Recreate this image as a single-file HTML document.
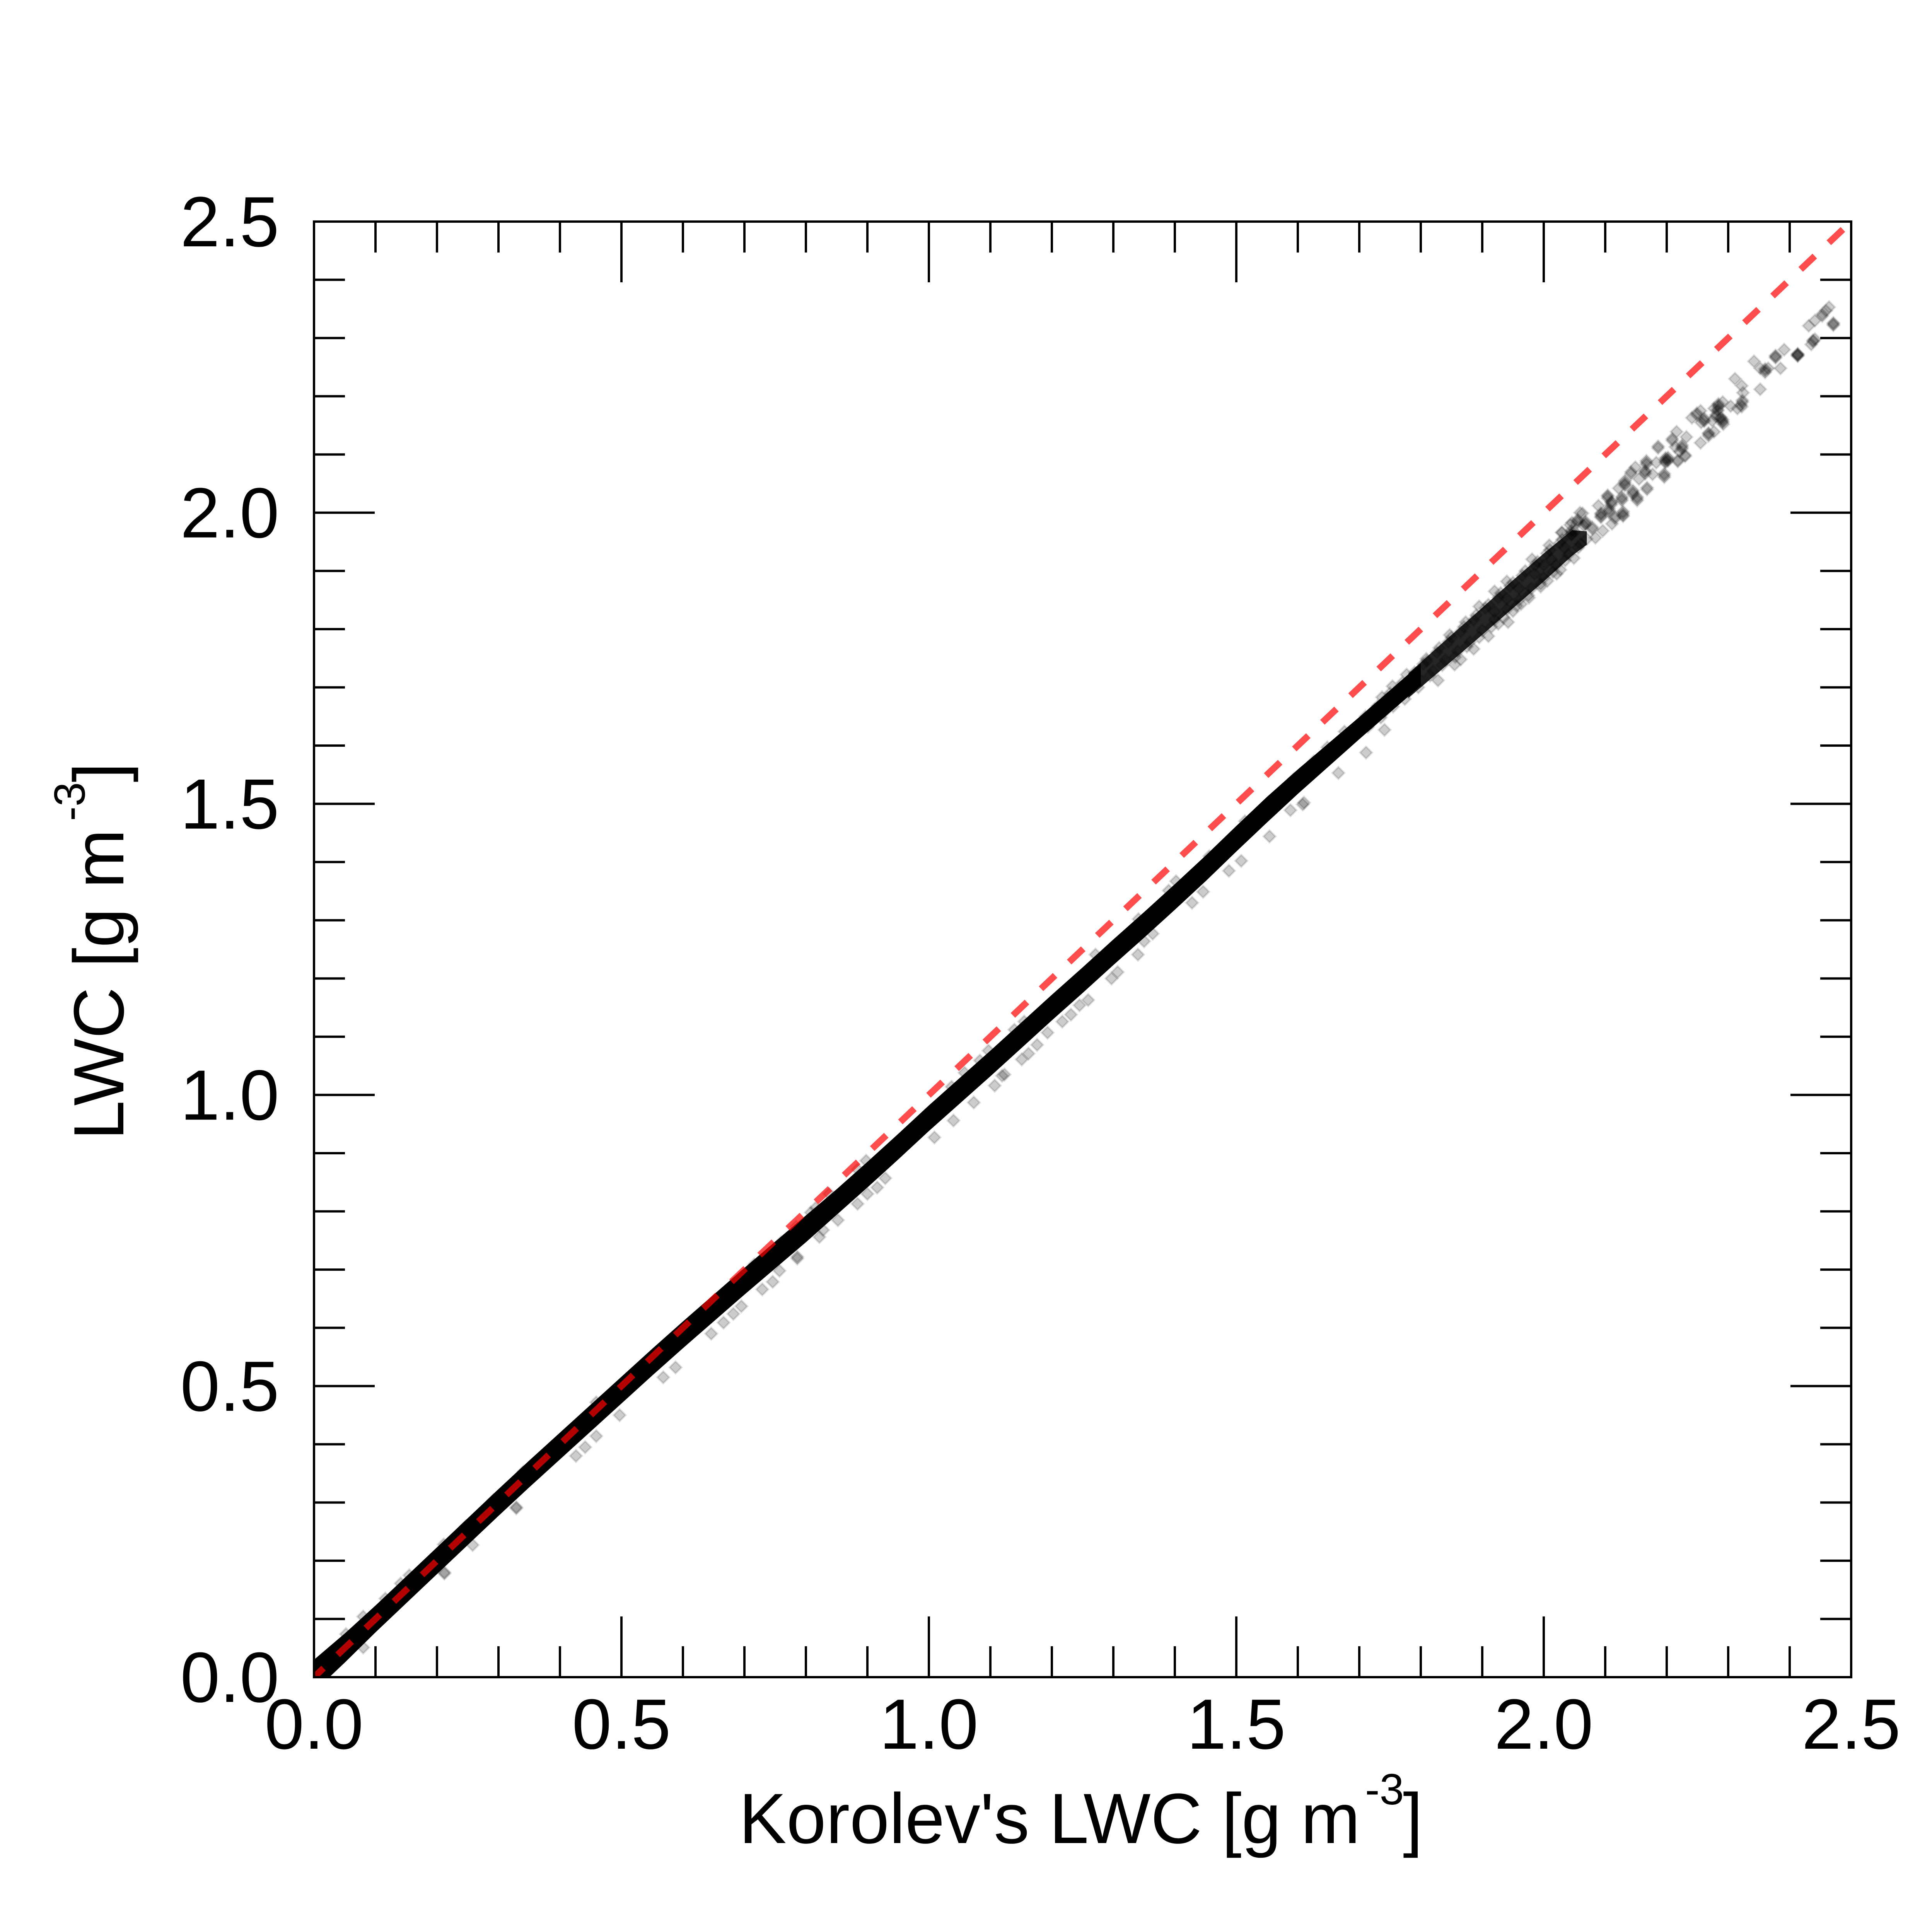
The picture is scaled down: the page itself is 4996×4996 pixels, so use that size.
<!DOCTYPE html>
<html lang="en">
<head>
<meta charset="utf-8">
<title>LWC vs Korolev's LWC</title>
<style>
html,body{margin:0;padding:0;background:#fff;}
svg{display:block;}
text{font-family:"Liberation Sans",Arial,sans-serif;fill:#000;}
</style>
</head>
<body>
<svg id="chart" xmlns="http://www.w3.org/2000/svg" width="4996" height="4996" viewBox="0 0 4996 4996">
  <defs>
    <clipPath id="plot-clip"><rect x="812" y="573" width="3975" height="3764"/></clipPath>
  </defs>
  <rect x="0" y="0" width="4996" height="4996" fill="#fff"/>
  <g id="series" clip-path="url(#plot-clip)"></g>
  <g id="ref" clip-path="url(#plot-clip)"></g>
  <g id="ticks"></g>
  <rect x="812" y="573" width="3975" height="3764" fill="none" stroke="#000" stroke-width="6"/>
  <g id="labels" font-size="184"></g>
  <text x="1911" y="4766" font-size="184">Korolev's LWC [g m<tspan x="3530" y="4666" font-size="113">-3</tspan><tspan x="3628" y="4766">]</tspan></text>
  <text transform="translate(319,2948) rotate(-90)" font-size="184">LWC [g m<tspan x="825" y="-100" font-size="113">-3</tspan><tspan x="925" y="0">]</tspan></text>
</svg>
<script>
// ---- axis labels and ticks ----
const majorTicks = [0, 0.5, 1, 1.5, 2, 2.5];
const minorTicks = [0.1,0.2,0.3,0.4,0.6,0.7,0.8,0.9,1.1,1.2,1.3,1.4,1.6,1.7,1.8,1.9,2.1,2.2,2.3,2.4];
const tickLabels = ['0.0','0.5','1.0','1.5','2.0','2.5'];

// ---- one-to-one reference line ----
const refLineX = [0, 2.5];
const refLineY = [0, 2.5];

// ---- saturated part of the scatter (edges of the solid black band) ----
const coreBin = [0,0.05,0.1,0.15,0.2,0.25,0.3,0.35,0.4,0.45,0.5,0.55,0.6,0.65,0.7,0.75,0.8,0.85,0.9,0.95,1,1.05,1.1,1.15,1.2,1.25,1.3,1.35,1.4,1.45,1.5,1.55,1.6,1.65,1.7,1.75,1.8];
const coreUpper = [0.03,0.075,0.123,0.173,0.223,0.273,0.323,0.372,0.42,0.468,0.516,0.564,0.611,0.657,0.703,0.748,0.793,0.838,0.885,0.933,0.982,1.029,1.076,1.124,1.172,1.219,1.267,1.314,1.362,1.411,1.462,1.512,1.559,1.604,1.649,1.695,1.741];
const coreLower = [-0.025,0.025,0.077,0.127,0.177,0.227,0.277,0.326,0.374,0.422,0.47,0.518,0.565,0.611,0.657,0.702,0.747,0.794,0.841,0.889,0.938,0.985,1.032,1.08,1.128,1.175,1.223,1.27,1.318,1.367,1.418,1.468,1.517,1.564,1.611,1.657,1.703];

// ---- dense but not saturated part ----
const denseBin = [1.78,1.82,1.88,1.95,2,2.046,2.07];
const denseUpper = [1.724,1.762,1.818,1.884,1.93,1.97,1.968];
const denseLower = [1.682,1.718,1.772,1.836,1.882,1.926,1.945];

// ---- individually visible points ----
const scatterX = [
0.08,0.212,0.212,0.258,0.329,0.329,0.426,0.441,0.459,0.497,0.568,0.588,
0.646,0.666,0.682,0.695,0.729,0.746,0.757,0.786,0.786,0.822,0.828,0.852,0.884,0.9,0.916,0.929,
0.052,0.08,0.116,0.141,0.155,0.211,0.247,0.292,0.339,0.348,0.341,0.459,0.626,0.716,0.76,0.784,0.808,0.816,0.838,0.884,0.898,
1.009,1.04,1.073,1.119,1.107,1.123,1.151,1.162,1.176,1.193,1.217,1.231,1.245,1.259,1.297,1.307,1.34,1.35,1.364,1.428,1.446,1.488,1.508,1.554,1.608,1.588,
1.058,1.097,1.083,1.037,1.155,1.139,1.271,1.341,1.402,1.39,1.456,1.514,
1.711,1.666,1.61,1.741,1.828,1.895,1.95,1.942,1.926,1.91,1.886,1.865,1.855,1.995,1.976,1.963,2.006,2.021,2.049,2.027,
1.981,2.009,2.029,1.94,1.92,1.873,1.847,1.809,1.777,1.754,1.737,1.676,1.648,1.626,1.594,2.046,2.059,
1.71,1.714,1.72,1.725,1.73,1.735,1.74,1.746,1.75,1.755,1.76,1.766,1.77,1.774,1.78,1.785,1.79,1.796,1.8,1.804,
1.81,1.815,1.82,1.826,1.83,1.835,1.84,1.845,1.85,1.856,1.86,1.865,1.87,1.875,1.88,1.886,1.89,1.895,1.9,1.905,
1.91,1.915,1.92,1.926,1.93,1.935,1.94,1.945,1.95,1.956,1.96,1.965,1.97,1.975,1.98,1.986,1.99,1.995,2,2.005,
2.01,2.015,2.02,2.026,2.03,2.035,2.04,2.045,2.05,2.056,2.06,2.065,2.07,1.96,1.985,2.012,2.034,2,1.94,1.92,
2.043,2.03,2.045,2.045,2.045,2.063,2.055,2.055,2.055,2.068,2.068,2.068,2.079,2.079,2.084,2.096,2.111,2.116,2.116,
2.089,2.093,2.093,2.093,2.093,2.106,2.106,2.106,2.104,2.104,2.104,2.11,2.11,2.11,2.122,2.127,2.127,2.127,2.129,2.129,2.129,2.129,
2.132,2.132,2.132,2.132,2.142,2.142,2.145,2.145,2.145,2.149,2.152,2.152,2.152,2.155,2.165,2.165,2.165,2.167,2.167,2.167,2.168,2.168,2.177,2.183,2.186,2.186,2.196,2.196,2.196,2.198,2.198,2.198,2.198,
2.202,2.202,2.202,2.209,2.209,2.214,2.216,2.218,2.218,2.221,2.225,2.225,2.225,2.23,2.23,2.232,
2.241,2.249,2.249,2.255,2.255,2.256,2.261,2.261,2.261,2.268,2.268,2.268,2.274,2.277,2.277,2.28,2.28,2.283,2.283,2.284,2.284,2.284,2.288,2.288,2.291,2.291,2.291,2.291,2.292,
2.304,2.311,2.315,2.321,2.322,2.322,2.323,2.323,2.324,2.342,2.352,2.352,2.36,2.36,2.36,2.365,2.377,2.377,2.377,2.385,2.391,
2.413,2.413,2.413,2.413,2.413,2.431,2.435,2.438,2.438,2.441,2.441,2.453,2.453,2.459,2.464,2.471,2.471,2.471
];
const scatterY = [
0.051,0.178,0.18,0.227,0.292,0.29,0.38,0.395,0.414,0.45,0.515,0.532,
0.59,0.609,0.624,0.637,0.666,0.679,0.698,0.719,0.722,0.756,0.768,0.785,0.813,0.83,0.841,0.857,
0.074,0.104,0.135,0.161,0.175,0.228,0.259,0.304,0.35,0.357,0.353,0.472,0.622,0.709,0.747,0.774,0.798,0.806,0.83,0.872,0.887,
0.927,0.956,0.987,1.033,1.016,1.035,1.061,1.071,1.086,1.107,1.126,1.138,1.154,1.163,1.2,1.211,1.241,1.264,1.277,1.33,1.349,1.385,1.402,1.444,1.499,1.489,
1.038,1.076,1.059,1.014,1.126,1.112,1.241,1.302,1.367,1.351,1.41,1.47,
1.588,1.553,1.502,1.627,1.712,1.839,1.831,1.812,1.809,1.788,1.766,1.748,1.739,1.873,1.854,1.843,1.883,1.895,1.922,1.902,
1.92,1.944,1.966,1.882,1.865,1.812,1.79,1.749,1.722,1.702,1.683,1.624,1.597,1.573,1.543,1.983,2,
1.65,1.632,1.64,1.662,1.668,1.648,1.657,1.682,1.69,1.667,1.678,1.7,1.708,1.68,1.692,1.716,1.726,1.7,1.712,1.74,
1.745,1.72,1.728,1.76,1.768,1.738,1.747,1.778,1.786,1.752,1.762,1.796,1.804,1.77,1.778,1.816,1.824,1.786,1.798,1.836,
1.842,1.804,1.816,1.854,1.862,1.82,1.834,1.874,1.88,1.84,1.85,1.892,1.9,1.858,1.87,1.91,1.916,1.878,1.888,1.93,
1.936,1.898,1.91,1.948,1.954,1.918,1.928,1.962,1.968,1.94,1.946,1.978,1.955,1.87,1.895,1.92,1.94,1.91,1.852,1.83,
1.979,1.966,1.967,1.97,1.963,1.999,1.986,1.988,1.983,1.982,1.98,1.985,1.975,1.972,1.957,1.969,1.981,1.993,1.99,
2.012,1.997,1.999,1.994,1.992,2.004,2.007,2.001,2.028,2.03,2.025,2.017,2.019,2.014,2.042,2.024,2.027,2.021,1.999,2.002,1.996,1.994,
2.052,2.055,2.049,2.047,2.067,2.07,2.035,2.038,2.032,2.078,2.024,2.027,2.021,2.058,2.07,2.072,2.067,2.086,2.089,2.083,2.04,2.043,2.066,2.086,2.111,2.114,2.064,2.067,2.061,2.091,2.094,2.088,2.086,
2.092,2.095,2.089,2.127,2.124,2.113,2.139,2.09,2.088,2.105,2.113,2.116,2.11,2.097,2.099,2.13,
2.163,2.171,2.168,2.175,2.12,2.155,2.159,2.162,2.157,2.135,2.137,2.132,2.158,2.179,2.139,2.165,2.168,2.177,2.175,2.184,2.187,2.182,2.161,2.164,2.19,2.157,2.16,2.155,2.152,
2.183,2.23,2.179,2.185,2.218,2.182,2.19,2.193,2.206,2.26,2.248,2.212,2.244,2.241,2.247,2.248,2.268,2.27,2.266,2.248,2.28,
2.271,2.273,2.269,2.272,2.27,2.321,2.289,2.294,2.296,2.33,2.298,2.341,2.338,2.347,2.353,2.324,2.326,2.322
];

const NS = 'http://www.w3.org/2000/svg';
const xAxis = v => 812 + v * 1590;
const yAxis = v => 4337 - v * 1505.6;

function drawTick(parent, x1, y1, x2, y2) {
  const t = document.createElementNS(NS, 'line');
  
  
  t.setAttribute('x1', x1);
  t.setAttribute('y1', y1);
  t.setAttribute('x2', x2);
  t.setAttribute('y2', y2);
  t.setAttribute('stroke', '#000');
  t.setAttribute('stroke-width', 6);
  parent.appendChild(t);
}

const ticksGroup = document.getElementById('ticks');
[[majorTicks, 157], [minorTicks, 80]].forEach(([values, len]) => {
  values.forEach(v => {
    const px = xAxis(v), py = yAxis(v);
    drawTick(ticksGroup, px, 4337, px, 4337 - len);
    drawTick(ticksGroup, px, 573, px, 573 + len);
    drawTick(ticksGroup, 812, py, 812 + len, py);
    drawTick(ticksGroup, 4787, py, 4787 - len, py);
  });
});

const labelsGroup = document.getElementById('labels');
majorTicks.forEach((v, i) => {
  const xl = document.createElementNS(NS, 'text');
  
  
  xl.setAttribute('x', xAxis(v));
  xl.setAttribute('y', 4522);
  xl.setAttribute('text-anchor', 'middle');
  xl.textContent = tickLabels[i];
  labelsGroup.appendChild(xl);
  const yl = document.createElementNS(NS, 'text');
  
  
  yl.setAttribute('x', 722);
  yl.setAttribute('y', yAxis(v) + 64);
  yl.setAttribute('text-anchor', 'end');
  yl.textContent = tickLabels[i];
  labelsGroup.appendChild(yl);
});

function bandPoints(bins, upper, lower) {
  const top = bins.map((b, i) => xAxis(b) + ',' + yAxis(upper[i]));
  const bottom = bins.map((b, i) => xAxis(b) + ',' + yAxis(lower[i])).reverse();
  return top.concat(bottom).join(' ');
}

const seriesGroup = document.getElementById('series');

const denseBand = document.createElementNS(NS, 'polygon');


denseBand.setAttribute('points', bandPoints(denseBin, denseUpper, denseLower));
denseBand.setAttribute('fill', 'rgba(0,0,0,0.85)');
seriesGroup.appendChild(denseBand);

const coreBand = document.createElementNS(NS, 'polygon');


coreBand.setAttribute('points', bandPoints(coreBin, coreUpper, coreLower));
coreBand.setAttribute('fill', '#000');
seriesGroup.appendChild(coreBand);

scatterX.forEach((v, i) => {
  const cx = xAxis(v), cy = yAxis(scatterY[i]), r = 15.5;
  const d = document.createElementNS(NS, 'polygon');
  
  
  d.setAttribute('points', cx + ',' + (cy - r) + ' ' + (cx + r) + ',' + cy + ' ' + cx + ',' + (cy + r) + ' ' + (cx - r) + ',' + cy);
  d.setAttribute('fill', 'rgba(0,0,0,0.2)');
  d.setAttribute('stroke', 'rgba(0,0,0,0.13)');
  d.setAttribute('stroke-width', 5);
  seriesGroup.appendChild(d);
});

const refLine = document.createElementNS(NS, 'line');


refLine.setAttribute('x1', xAxis(refLineX[0]));
refLine.setAttribute('y1', yAxis(refLineY[0]));
refLine.setAttribute('x2', xAxis(refLineX[1]));
refLine.setAttribute('y2', yAxis(refLineY[1]));
refLine.setAttribute('stroke', 'rgba(255,0,0,0.7)');
refLine.setAttribute('stroke-width', 17);
refLine.setAttribute('stroke-dasharray', '50 50.2');
refLine.setAttribute('stroke-dashoffset', 16);
document.getElementById('ref').appendChild(refLine);
</script>
</body>
</html>
